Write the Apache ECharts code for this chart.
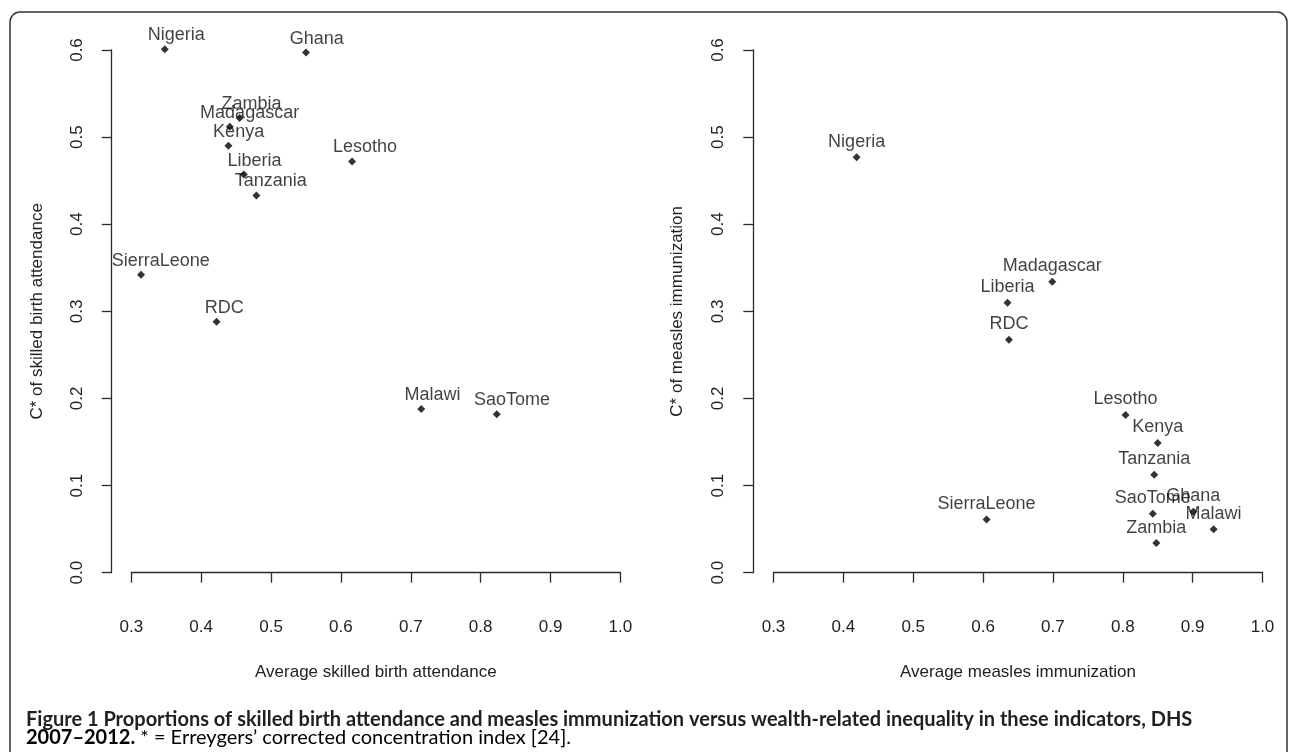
<!DOCTYPE html>
<html>
<head>
<meta charset="utf-8">
<script src="https://cdn.jsdelivr.net/npm/echarts@6/dist/echarts.min.js"></script>
<style>
html,body{margin:0;padding:0;background:#fff;}
#chart{width:1290px;height:752px;}
</style>
</head>
<body>
<div id="chart"></div>
<script>
// ---- data ----
const sbaCountries = ['Nigeria','Ghana','Zambia','Madagascar','Kenya','Lesotho','Liberia','Tanzania','SierraLeone','RDC','Malawi','SaoTome'];
const sbaAverage   = [0.348, 0.550, 0.455, 0.441, 0.439, 0.616, 0.461, 0.479, 0.314, 0.422, 0.715, 0.823];
const sbaCstar     = [0.601, 0.597, 0.522, 0.512, 0.490, 0.472, 0.457, 0.433, 0.342, 0.288, 0.188, 0.182];

const measCountries = ['Nigeria','Madagascar','Liberia','RDC','Lesotho','Kenya','Tanzania','SaoTome','Ghana','Malawi','Zambia','SierraLeone'];
const measAverage   = [0.419, 0.699, 0.635, 0.637, 0.804, 0.850, 0.845, 0.843, 0.901, 0.930, 0.848, 0.605];
const measCstar     = [0.477, 0.334, 0.310, 0.2675, 0.181, 0.149, 0.1125, 0.0677, 0.070, 0.050, 0.034, 0.061];

const xTicks = [0.3, 0.4, 0.5, 0.6, 0.7, 0.8, 0.9, 1.0];
const yTicks = [0.0, 0.1, 0.2, 0.3, 0.4, 0.5, 0.6];

const xTitles = ['Average skilled birth attendance', 'Average measles immunization'];
const yTitles = ['C* of skilled birth attendance', 'C* of measles immunization'];
const captionBold = 'Figure 1 Proportions of skilled birth attendance and measles immunization versus wealth-related inequality in these indicators, DHS';
const captionBold2 = '2007\u20132012.';
const captionRest = ' * = Erreygers\u2019 corrected concentration index [24].';

// ---- chart ----
const FONT = '"Liberation Sans", Arial, Helvetica, sans-serif';
const CAP_FONT = 'Lato, "Open Sans", sans-serif';
const LABEL_SIZE = 18;
const measureCtx = document.createElement('canvas').getContext('2d');
function textW(s, font){ measureCtx.font = font; return measureCtx.measureText(s).width; }

// caption size chosen so the first line spans the frame width like the original
const capSize = Math.round(1168 / textW(captionBold, 'bold 100px ' + CAP_FONT) * 1000) / 10;

function points(names, xs, ys, shiftFrac){
  return names.map((n, i) => ({
    name: n,
    value: [xs[i], ys[i]],
    label: { offset: [shiftFrac * textW(n, LABEL_SIZE + 'px ' + FONT), 0] }
  }));
}

const gridTop = 50, gridBottom = 752 - 572.7;
const grids = [
  { left: 131.3, right: 1290 - 620.4, top: gridTop, bottom: gridBottom },
  { left: 773.5, right: 1290 - 1262.5, top: gridTop, bottom: gridBottom }
];

const axisLine = { show: true, lineStyle: { color: '#2a2a2a', width: 1.3 } };
const axisTick = { show: true, length: 10, lineStyle: { color: '#2a2a2a', width: 1.3 } };

function xAxis(i){
  return {
    type: 'value', gridIndex: i, min: xTicks[0], max: xTicks[xTicks.length-1], interval: 0.1,
    offset: 23.3,
    axisLine, axisTick, splitLine: { show: false },
    axisLabel: { fontSize: 17, fontFamily: FONT, color: '#222', margin: 23,
      formatter: v => v.toFixed(1) },
    name: xTitles[i], nameLocation: 'middle', nameGap: 68,
    nameTextStyle: { fontSize: 17, fontFamily: FONT, color: '#222' }
  };
}
function yAxis(i, off, gap){
  return {
    type: 'value', gridIndex: i, min: yTicks[0], max: yTicks[yTicks.length-1], interval: 0.1,
    offset: off,
    axisLine, axisTick, splitLine: { show: false },
    axisLabel: { fontSize: 17, fontFamily: FONT, color: '#222', margin: 26, rotate: 90,
      formatter: v => v.toFixed(1) },
    name: yTitles[i], nameLocation: 'middle', nameGap: gap, nameRotate: 90,
    nameTextStyle: { fontSize: 17, fontFamily: FONT, color: '#222' }
  };
}

function scatter(i, data, dist){
  return {
    type: 'scatter', xAxisIndex: i, yAxisIndex: i, clip: false,
    symbol: 'diamond', symbolSize: 8,
    itemStyle: { color: '#000' },
    label: { show: true, position: 'top', distance: dist, formatter: p => p.name,
      fontSize: LABEL_SIZE, fontFamily: FONT, color: '#111' },
    emphasis: { disabled: true },
    data
  };
}

const chart = echarts.init(document.getElementById('chart'), null, { renderer: 'canvas' });
chart.setOption({
  animation: false,
  backgroundColor: '#fff',
  grid: grids,
  xAxis: [xAxis(0), xAxis(1)],
  yAxis: [yAxis(0, 19.6, 66), yAxis(1, 20.2, 67)],
  series: [
    scatter(0, points(sbaCountries, sbaAverage, sbaCstar, 0.2), 1),
    scatter(1, points(measCountries, measAverage, measCstar, 0), 2.5)
  ],
  graphic: [
    { type: 'rect', shape: { x: 10, y: 12, width: 1277, height: 800, r: 10 },
      style: { fill: 'none', stroke: '#333', lineWidth: 1.5 }, silent: true },
    { type: 'text', left: 26, top: 726 - 0.8 * capSize,
      style: { text: captionBold, font: 'bold ' + capSize + 'px ' + CAP_FONT, fill: '#231f20' } },
    { type: 'text', left: 26, top: 744 - 0.8 * capSize,
      style: {
        text: '{b|' + captionBold2 + '}{r|' + captionRest + '}',
        rich: {
          b: { fontFamily: CAP_FONT, fontWeight: 'bold', fontSize: capSize, color: '#231f20' },
          r: { fontFamily: CAP_FONT, fontWeight: 'normal', fontSize: capSize, color: '#3a3a3a' }
        }
      } }
  ]
});
</script>
</body>
</html>
